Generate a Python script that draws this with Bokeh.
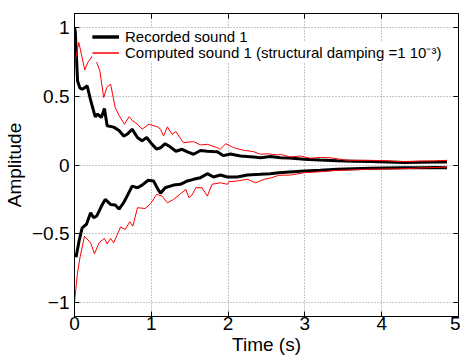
from bokeh.plotting import figure
from bokeh.models import (Range1d, LinearAxis, FixedTicker, Legend, LegendItem)
from bokeh.embed import file_html
from bokeh.resources import INLINE

# ---- data ----
rec_up_t = [0.0, 0.01, 0.04, 0.07, 0.1, 0.13, 0.165, 0.21, 0.27, 0.3, 0.35, 0.39, 0.425, 0.51, 0.58,
            0.64, 0.69, 0.75, 0.82, 0.88, 0.94, 1.01, 1.07, 1.12, 1.18, 1.25, 1.32, 1.4, 1.47, 1.55,
            1.64, 1.73, 1.8, 1.86, 1.94, 2.03, 2.16, 2.33, 2.42, 2.55, 2.68, 2.8, 2.99, 3.2, 3.42,
            3.63, 3.85, 4.07, 4.29, 4.5, 4.7, 4.85]
rec_up_v = [1.0, 0.97, 0.61, 0.56, 0.55, 0.56, 0.575, 0.47, 0.35, 0.37, 0.345, 0.41, 0.285, 0.275, 0.25,
            0.21, 0.225, 0.26, 0.2, 0.175, 0.2, 0.15, 0.115, 0.125, 0.155, 0.13, 0.10, 0.114, 0.095, 0.078,
            0.105, 0.10, 0.098, 0.097, 0.068, 0.08, 0.065, 0.058, 0.053, 0.062, 0.053, 0.05, 0.042, 0.036, 0.03,
            0.028, 0.025, 0.022, 0.018, 0.02, 0.021, 0.022]

rec_lo_t = [0.02, 0.06, 0.1, 0.156, 0.21, 0.25, 0.29, 0.35, 0.4, 0.47, 0.53, 0.58, 0.64, 0.7, 0.75,
            0.82, 0.88, 0.96, 1.03, 1.08, 1.12, 1.18, 1.29, 1.38, 1.47, 1.55, 1.64, 1.73, 1.81, 1.9,
            1.99, 2.12, 2.25, 2.42, 2.55, 2.66, 2.8, 2.99, 3.2, 3.42, 3.63, 3.85, 4.07, 4.29, 4.5,
            4.7, 4.85]
rec_lo_v = [-0.67, -0.55, -0.456, -0.43, -0.347, -0.383, -0.37, -0.3, -0.25, -0.286, -0.29, -0.32, -0.274,
            -0.21, -0.153, -0.165, -0.146, -0.111, -0.116, -0.17, -0.205, -0.165, -0.146, -0.14, -0.116,
            -0.104, -0.092, -0.063, -0.087, -0.073, -0.087, -0.087, -0.073, -0.068, -0.063, -0.056, -0.05,
            -0.044, -0.038, -0.031, -0.027, -0.024, -0.022, -0.02, -0.02, -0.019, -0.02]

com_up_t = [0.01, 0.056, 0.134, 0.173, 0.25, 0.33, 0.38, 0.42, 0.47, 0.53, 0.58, 0.65, 0.71, 0.76, 0.82,
            0.88, 0.97, 1.08, 1.12, 1.16, 1.21, 1.27, 1.32, 1.42, 1.55, 1.64, 1.73, 1.86, 1.9, 1.97,
            2.07, 2.2, 2.33, 2.42, 2.51, 2.64, 2.68, 2.81, 2.94, 3.07, 3.2, 3.33, 3.55, 3.85, 4.07,
            4.29, 4.5, 4.7, 4.85]
com_up_v = [0.76, 0.89, 0.69, 0.745, 0.805, 0.684, 0.49, 0.563, 0.587, 0.417, 0.36, 0.296, 0.35, 0.32, 0.296,
            0.26, 0.296, 0.277, 0.26, 0.211, 0.277, 0.223, 0.242, 0.162, 0.17, 0.146, 0.15, 0.126, 0.114, 0.155,
            0.126, 0.107, 0.097, 0.078, 0.082, 0.073, 0.078, 0.058, 0.065, 0.049, 0.055, 0.053, 0.034, 0.034, 0.03,
            0.024, 0.028, 0.03, 0.034]

com_lo_t = [0.0, 0.035, 0.07, 0.13, 0.21, 0.26, 0.32, 0.39, 0.425, 0.47, 0.51, 0.6, 0.66, 0.72, 0.76,
            0.82, 0.92, 0.99, 1.07, 1.14, 1.21, 1.29, 1.38, 1.45, 1.49, 1.53, 1.58, 1.66, 1.73, 1.79,
            1.9, 1.99, 2.01, 2.12, 2.25, 2.36, 2.47, 2.57, 2.66, 2.81, 2.99, 3.2, 3.42, 3.63, 3.85,
            4.07, 4.29, 4.5, 4.7, 4.85]
com_lo_v = [-1.0, -0.8, -0.675, -0.517, -0.565, -0.645, -0.565, -0.533, -0.573, -0.533, -0.565, -0.45, -0.468,
            -0.412, -0.444, -0.31, -0.316, -0.281, -0.213, -0.226, -0.274, -0.25, -0.209, -0.177, -0.238,
            -0.218, -0.165, -0.165, -0.226, -0.14, -0.129, -0.14, -0.121, -0.116, -0.104, -0.129, -0.104,
            -0.092, -0.075, -0.073, -0.056, -0.049, -0.039, -0.035, -0.031, -0.029, -0.027, -0.022, -0.018,
            -0.015]

x_ticks = [0, 1, 2, 3, 4, 5]
y_ticks = [-1, -0.5, 0, 0.5, 1]
y_tick_labels = {-1: "\u22121", -0.5: "\u22120.5", 0: "0", 0.5: "0.5", 1: "1"}
x_title = "Time (s)"
y_title = "Amplitude"
legend_labels = ["Recorded sound 1", "Computed sound 1 (structural damping =1 10\u207b\u00b3)"]

FONT = "Liberation Sans"

p = figure(width=460, height=359, output_backend="svg", toolbar_location=None,
           x_range=Range1d(0, 5), y_range=Range1d(-1.1, 1.1),
           min_border_left=74, min_border_right=2, min_border_top=13, min_border_bottom=43,
           x_axis_label=x_title, y_axis_label=y_title)
p.background_fill_color = "white"
p.border_fill_color = "white"
p.outline_line_color = "black"
p.outline_line_width = 1

r1 = p.line(rec_up_t, rec_up_v, line_color="black", line_width=3)
r2 = p.line(rec_lo_t, rec_lo_v, line_color="black", line_width=3)
r3 = p.line(com_up_t, com_up_v, line_color="red", line_width=1)
r4 = p.line(com_lo_t, com_lo_v, line_color="red", line_width=1)

for ax in (p.xaxis[0], p.yaxis[0]):
    ax.major_tick_in = 5
    ax.major_tick_out = 0
    ax.minor_tick_in = 0
    ax.minor_tick_out = 0
    ax.major_label_text_font = FONT
    ax.major_label_text_font_size = "19px"
    ax.major_label_text_color = "black"
    ax.axis_label_text_font = FONT
    ax.axis_label_text_font_size = "19px"
    ax.axis_label_text_font_style = "normal"
    ax.axis_label_text_color = "black"
    ax.axis_line_color = "black"
    ax.major_tick_line_color = "black"

p.xaxis[0].ticker = FixedTicker(ticks=x_ticks)
p.yaxis[0].ticker = FixedTicker(ticks=y_ticks)
p.yaxis[0].major_label_overrides = y_tick_labels
p.xaxis[0].major_label_standoff = 0
p.xaxis[0].axis_label_standoff = 1
p.yaxis[0].major_label_standoff = 5
p.yaxis[0].axis_label_standoff = 4

for loc, tk in (("right", y_ticks), ("above", x_ticks)):
    ax = LinearAxis(ticker=FixedTicker(ticks=tk), major_tick_in=5, major_tick_out=0,
                    minor_tick_in=0, minor_tick_out=0,
                    major_label_overrides={t: "" for t in tk},
                    major_label_text_font_size="1px",
                    major_label_standoff=0, axis_line_color="black", major_tick_line_color="black")
    p.add_layout(ax, loc)

p.xgrid.ticker = FixedTicker(ticks=x_ticks)
p.ygrid.ticker = FixedTicker(ticks=y_ticks)
for g in (p.xgrid, p.ygrid):
    g.grid_line_color = "#8c8c8c"
    g.grid_line_dash = "1 2"
    g.grid_line_width = 1

common = dict(orientation="vertical", label_text_font=FONT, label_text_font_size="15px",
              label_text_color="black", glyph_width=27, glyph_height=15, label_height=15,
              label_standoff=6, spacing=0, padding=4, margin=0, border_line_color=None,
              background_fill_color="white", background_fill_alpha=1.0)
leg1 = Legend(items=[LegendItem(label=legend_labels[0], renderers=[r1, r2])],
              location=(18, 271), **common)
leg2 = Legend(items=[LegendItem(label=legend_labels[1], renderers=[r3, r4])],
              location=(18, 254), **common)
p.add_layout(leg2)
p.add_layout(leg1)

open("out.html", "w").write(file_html(p, INLINE))
